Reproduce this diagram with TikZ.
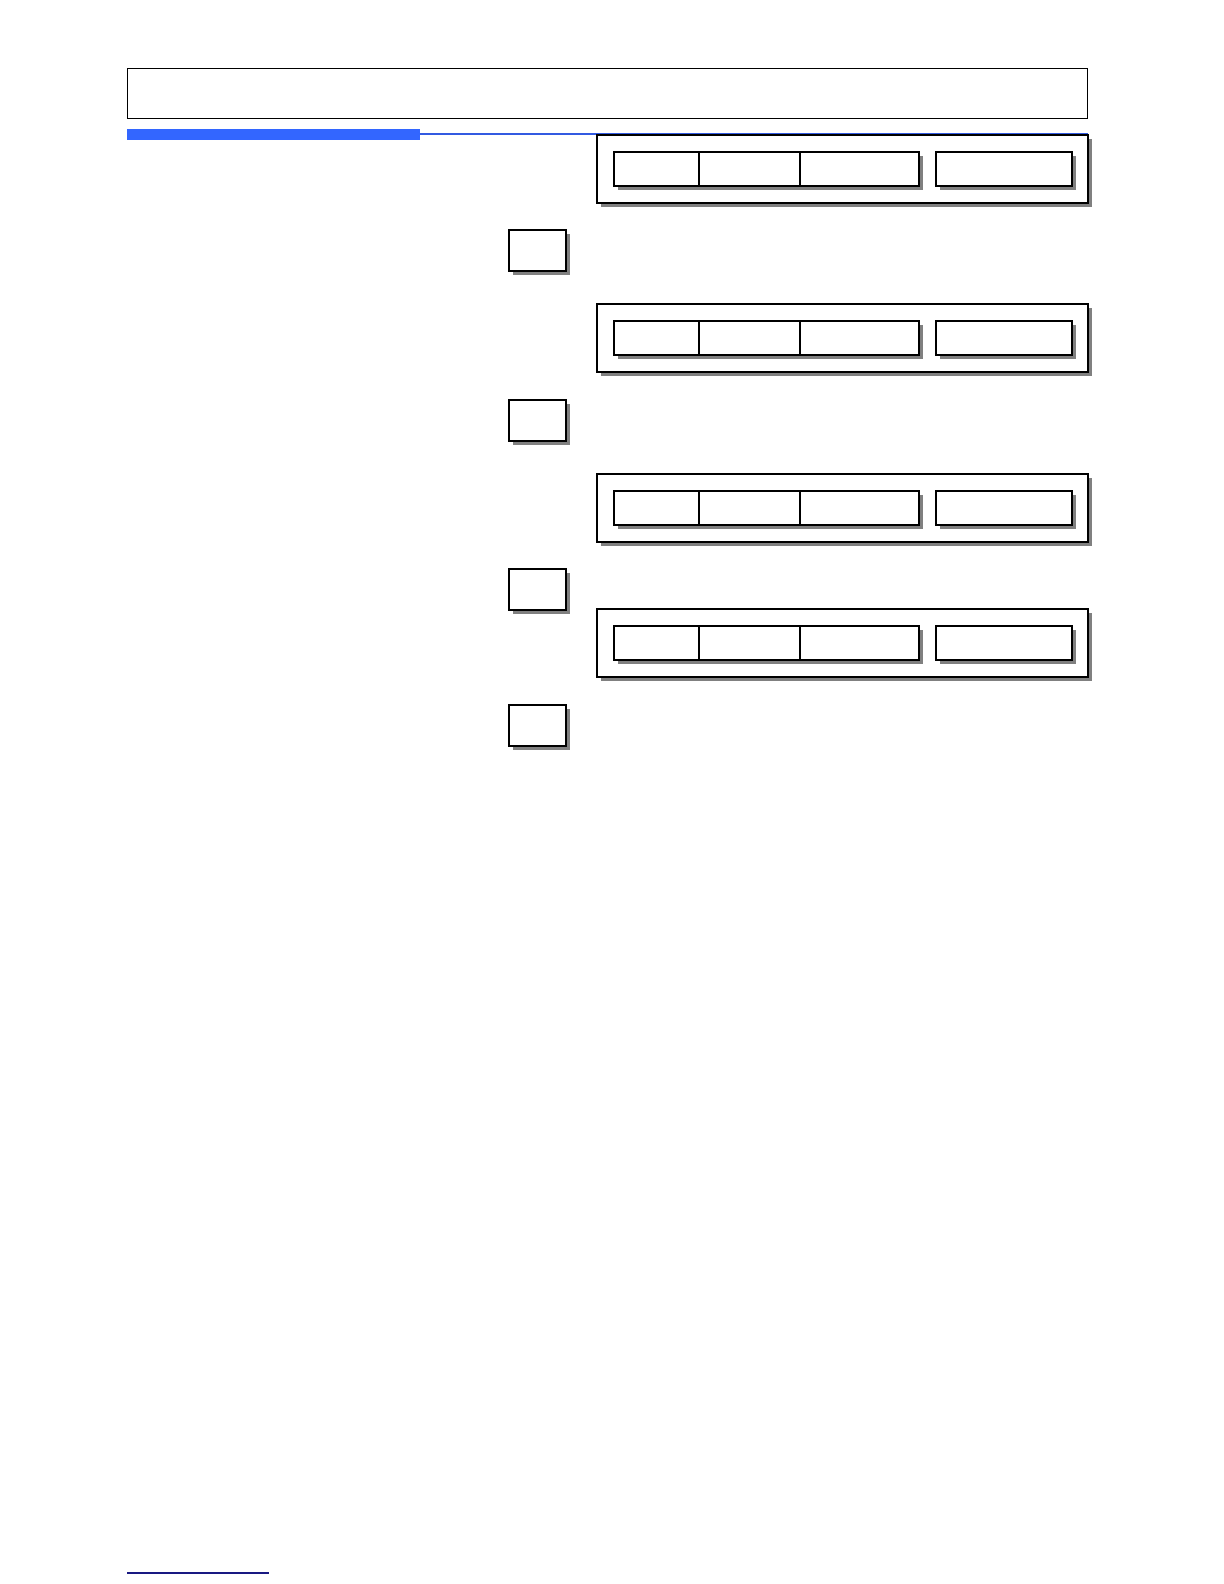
\documentclass[tikz,border=0pt]{standalone}
\usepackage{tikz}
\usetikzlibrary{shadows}
\definecolor{barblue}{RGB}{51,102,255}
\definecolor{lineblue}{RGB}{50,90,225}
\definecolor{footnavy}{RGB}{25,25,130}
\tikzset{
	frame/.style={draw,thick,fill=white,inner sep=0pt,outer sep=0pt,anchor=north west,
		minimum width=245.5pt,minimum height=34pt,
		drop shadow={shadow xshift=2pt,shadow yshift=-2pt,fill=black!50,opacity=1}},
	cell/.style={draw,line width=1pt,fill=white,inner sep=0pt,outer sep=0pt,anchor=north west,
		minimum height=17pt,
		drop shadow={shadow xshift=2pt,shadow yshift=-2pt,fill=black!50,opacity=1}},
	tag/.style={cell,minimum width=28.5pt,minimum height=20.5pt}
}
\begin{document}
\begin{tikzpicture}[x=0.5pt,y=-0.5pt]
	\useasboundingbox (0,0) rectangle (1224,1584);
	
	%header
	\node[draw,semithick,inner sep=0pt,anchor=north west,minimum width=480pt,minimum height=25pt] (title) at (127,68) {};
	\fill[barblue] (127,129) rectangle (420,140);		%thick bar
	\draw[lineblue,line width=1pt] (420,134)--(1088,134);	%thin bar
	
	%rows
	\foreach \r/\y in {1/135,2/304,3/474,4/609}{
		\node[frame] (row\r) at (597,\y) {};
		\node[cell,minimum width=42.5pt] (a\r) at (614,\y+17) {};
		\node[cell,minimum width=50.5pt] (b\r) at (699,\y+17) {};
		\node[cell,minimum width=59.5pt] (c\r) at (800,\y+17) {};
		\node[cell,minimum width=68pt]   (d\r) at (936,\y+17) {};
	}
	
	%small squares
	\foreach \r/\y in {1/230,2/400,3/569,4/705}{
		\node[tag] (sq\r) at (509,\y) {};
	}
	
	%footnote rule
	\draw[footnavy,line width=0.8pt] (127,1573)--(269,1573);
\end{tikzpicture}
\end{document}
